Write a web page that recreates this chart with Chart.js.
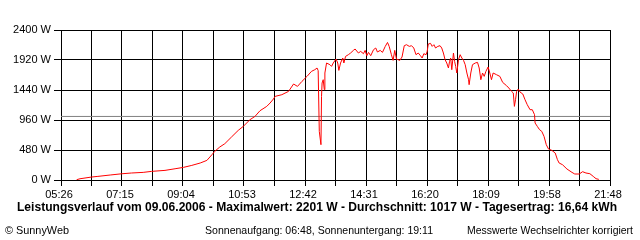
<!DOCTYPE html>
<html><head><meta charset="utf-8">
<script src="https://cdn.jsdelivr.net/npm/chart.js@4/dist/chart.umd.min.js"></script>
<style>html,body{margin:0;padding:0;background:#fff}#wrap{width:640px;height:240px}</style>
</head><body><div id="wrap"><canvas id="c" width="640" height="240"></canvas></div>
<script>
// time of day in minutes since midnight
const times = [354,360,381,392,414,435,452,473,488,512,530,545,560,575,587,596,601,610,619,631,643,652,664,673,682,694,700,706,709,721,733,742,749,757,766,774,780,784,786,788,791,792,793,795,797,798,801,807,810,813,818,821,823,826,830,832,835,840,844,849,852,858,862,867,870,873,876,880,885,889,892,897,901,906,910,913,917,920,923,926,932,936,940,944,949,953,957,961,965,969,972,975,979,981,983,987,990,993,996,1000,1004,1007,1010,1013,1016,1019,1021,1023,1025,1028,1030,1032,1034,1037,1040,1043,1046,1049,1052,1055,1056,1059,1062,1067,1071,1074,1077,1080,1083,1086,1090,1093,1096,1099,1105,1111,1116,1123,1127,1132,1135,1137,1139,1141,1144,1147,1152,1156,1160,1165,1169,1173,1174,1178,1182,1186,1190,1194,1198,1204,1210,1214,1217,1223,1231,1240,1245,1253,1259,1265,1272,1278,1283,1288];
// power in W
const powers = [5,20,48,58,80,100,112,122,138,154,180,202,234,272,314,405,458,528,581,688,794,858,965,1018,1109,1178,1232,1296,1338,1365,1418,1536,1498,1578,1658,1738,1765,1792,1750,778,565,1338,1552,1605,1445,1712,1872,1845,1818,1872,1936,1872,1754,1872,1952,1872,1978,2005,2032,2074,2096,2032,2058,2021,2074,1989,2042,1989,2085,2112,2048,2074,2042,2138,2201,2138,2005,1914,2074,1936,1914,1968,2149,2165,2138,2149,2112,2005,2032,1989,1952,2021,2005,2058,2176,2186,2138,2165,2112,2138,2149,2112,2032,1925,1872,1792,1898,1952,1765,2032,1898,1818,1712,1925,2005,1952,1914,1845,1712,1605,1525,1712,1845,1872,1882,1792,1605,1712,1658,1738,1808,1712,1605,1712,1685,1658,1562,1509,1472,1418,1392,1178,1285,1418,1456,1408,1376,1285,1205,1125,1125,1045,912,858,805,778,698,565,496,474,432,325,272,245,176,122,96,96,133,112,101,58,21,10];
const xTickLabels = ['05:26','07:15','09:04','10:53','12:42','14:31','16:20','18:09','19:58','21:48'];
const yTickValues = [0,480,960,1440,1920,2400];
const averageW = 1017;
const titleText = 'Leistungsverlauf vom 09.06.2006 - Maximalwert: 2201 W - Durchschnitt: 1017 W - Tagesertrag: 16,64 kWh';
const footLeft = '\u00A9 SunnyWeb';
const footMid = 'Sonnenaufgang: 06:48, Sonnenuntergang: 19:11';
const footRight = 'Messwerte Wechselrichter korrigiert';
const xMin = 326, xMax = 1308, xSteps = 18;

const FONT = 'Liberation Sans';

function fitText(ctx, text, x, y, w, font) {
  ctx.save();
  ctx.font = font;
  const m = ctx.measureText(text).width;
  const s = w / m;
  ctx.translate(x, y);
  ctx.scale(s, 1);
  ctx.textAlign = 'left';
  ctx.textBaseline = 'alphabetic';
  ctx.fillStyle = '#000';
  ctx.fillText(text, 0, 0);
  ctx.restore();
}

const textPlugin = {
  id: 'texts',
  afterDraw(chart) {
    const ctx = chart.ctx;
    fitText(ctx, titleText, 17, 211, 600, 'bold 12px "' + FONT + '"');
    fitText(ctx, footLeft, 5, 234, 64, '11px "' + FONT + '"');
    fitText(ctx, footMid, 205, 234, 228, '11px "' + FONT + '"');
    fitText(ctx, footRight, 467, 234, 166, '11px "' + FONT + '"');
  }
};

new Chart(document.getElementById('c'), {
  type: 'line',
  data: {
    datasets: [
      {
        data: times.map((t, i) => ({x: t, y: powers[i]})),
        borderColor: '#ff0000', borderWidth: 1, pointRadius: 0, tension: 0, fill: false, order: 1
      },
      {
        data: [{x: xMin, y: averageW}, {x: xMax, y: averageW}],
        borderColor: '#808080', borderWidth: 1, pointRadius: 0, fill: false, order: 2
      }
    ]
  },
  options: {
    responsive: false, animation: false, devicePixelRatio: 1,
    layout: {padding: {top: 30, right: 30, bottom: 0, left: 0}},
    plugins: {legend: {display: false}, tooltip: {enabled: false}, title: {display: false}},
    scales: {
      x: {
        type: 'linear', min: xMin, max: xMax,
        afterBuildTicks: s => { const t = []; for (let i = 0; i <= xSteps; i++) t.push({value: xMin + i * (xMax - xMin) / xSteps}); s.ticks = t; },
        afterFit: s => { s.height = 60; },
        ticks: {
          autoSkip: false, maxRotation: 0, minRotation: 0, color: '#000', padding: 2, labelOffset: -2,
          font: {family: FONT, size: 11},
          callback: (v, i) => (i % 2 === 0 ? xTickLabels[i / 2] : '')
        },
        grid: {color: '#000', lineWidth: 1, tickLength: 6, tickColor: '#000', tickWidth: 1},
        border: {color: '#000', width: 1}
      },
      y: {
        min: 0, max: 2400,
        afterBuildTicks: s => { s.ticks = yTickValues.map(v => ({value: v})); },
        afterFit: s => { s.width = 61; },
        ticks: {color: '#000', padding: 3, font: {family: FONT, size: 11}, callback: v => v + ' W'},
        grid: {color: '#000', lineWidth: 1, tickLength: 7, tickColor: '#000', tickWidth: 1},
        border: {color: '#000', width: 1}
      }
    }
  },
  plugins: [textPlugin]
});
</script></body></html>
